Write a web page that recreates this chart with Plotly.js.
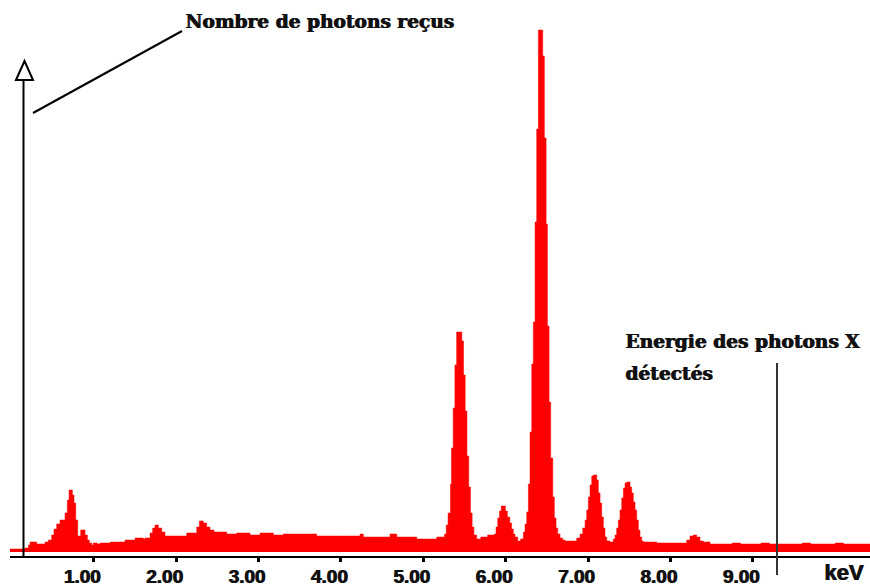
<!DOCTYPE html>
<html>
<head>
<meta charset="utf-8">
<script src="https://cdn.plot.ly/plotly-3.0.1.min.js"></script>
<style>html,body{margin:0;padding:0;background:#fff;}#chart{width:870px;height:587px;}</style>
</head>
<body>
<div id="chart"></div>
<script>
// Spectrum (energy in keV, counts in arbitrary units), step starts
var energyKeV = [
  -0.02, 0.164, 0.205, 0.225, 0.306, 0.407, 0.447, 0.488, 0.516, 0.549, 0.589, 0.650, 0.678, 0.699,
  0.739, 0.759, 0.780, 0.804, 0.840, 0.893, 0.921, 0.945, 0.974, 0.994, 1.042, 1.075, 1.20, 1.378,
  1.500, 1.601, 1.621, 1.682, 1.714, 1.743, 1.783, 1.824, 1.864, 2.127, 2.249, 2.281, 2.329, 2.370,
  2.410, 2.459, 2.613, 2.734, 2.896, 3.017, 3.179, 3.300, 3.463, 3.705, 3.948, 4.231, 4.271, 4.595,
  4.677, 4.919, 5.162, 5.257, 5.278, 5.300, 5.329, 5.341, 5.362, 5.383, 5.404, 5.467, 5.488, 5.508,
  5.529, 5.551, 5.572, 5.592, 5.613, 5.647, 5.697, 5.780, 5.861, 5.882, 5.903, 5.924, 5.945, 5.996,
  6.020, 6.049, 6.071, 6.092, 6.112, 6.146, 6.180, 6.214, 6.234, 6.255, 6.275, 6.295, 6.316, 6.335,
  6.356, 6.376, 6.396, 6.449, 6.469, 6.490, 6.506, 6.526, 6.546, 6.571, 6.590, 6.611, 6.631, 6.659,
  6.690, 6.720, 6.862, 6.902, 6.935, 6.963, 6.983, 7.003, 7.023, 7.044, 7.063, 7.105, 7.124, 7.145,
  7.165, 7.185, 7.205, 7.226, 7.266, 7.306, 7.327, 7.347, 7.367, 7.387, 7.408, 7.428, 7.448, 7.469,
  7.509, 7.529, 7.549, 7.570, 7.590, 7.610, 7.630, 7.651, 7.671, 7.833, 8.197, 8.237, 8.277, 8.318,
  8.358, 8.399, 8.480, 8.750, 8.850, 9.100, 9.200, 9.600, 9.700, 10.000, 10.100, 10.450
];
var counts = [
  3, 4, 7, 10, 8, 10, 12, 17, 23, 28, 32, 39, 52, 62,
  57, 49, 32, 16, 22, 17, 12, 9, 7, 9, 8, 9, 10, 12,
  14, 13, 14, 19, 24, 27, 24, 20, 16, 19, 25, 31, 29, 25,
  22, 20, 18, 19, 17, 19, 17, 18, 18, 16, 16, 18, 15, 18,
  15, 13, 15, 18, 27, 39, 68, 104, 144, 187, 220, 211, 177, 141,
  96, 65, 39, 25, 17, 13, 15, 17, 18, 25, 34, 41, 46, 41,
  35, 29, 23, 18, 15, 11, 13, 20, 28, 40, 68, 120, 188, 230,
  330, 423, 522, 496, 414, 328, 226, 150, 94, 55, 34, 24, 18, 14,
  12, 11, 14, 18, 24, 32, 42, 55, 67, 76, 77, 72, 59, 49,
  35, 24, 15, 11, 10, 13, 17, 24, 32, 42, 54, 64, 69, 70,
  65, 59, 50, 42, 32, 22, 15, 11, 10, 9, 12, 16, 17, 15,
  11, 10, 8, 9, 8, 9, 8, 9, 8, 9, 8, 8
];
var tickValues = [1, 2, 3, 4, 5, 6, 7, 8, 9];
var tickLabels = ["1.00", "2.00", "3.00", "4.00", "5.00", "6.00", "7.00", "8.00", "9.00"];
var yTitle = "Nombre de photons reçus";
var xTitleLine1 = "Energie des photons X";
var xTitleLine2 = "détectés";
var unitLabel = "keV";

// pixel -> paper helpers (plot area: x 10..870, y 0..556)
function px(x) { return (x - 10) / 860; }
function py(y) { return (556 - y) / 556; }

var trace = {
  x: energyKeV, y: counts, type: 'scatter', mode: 'lines',
  line: {shape: 'hv', color: '#ff0000', width: 0.5},
  fill: 'tozeroy', fillcolor: '#ff0000', hoverinfo: 'skip'
};

var serif = {family: 'DejaVu Serif', size: 18.6, color: '#111', weight: 'bold', shadow: '1px 0px 0px #111'};

var layout = {
  width: 870, height: 587,
  margin: {l: 10, r: 0, t: 0, b: 31, pad: 0},
  paper_bgcolor: '#ffffff', plot_bgcolor: '#ffffff',
  showlegend: false,
  xaxis: {
    range: [-0.018, 10.422], showgrid: false, zeroline: false,
    showline: true, linecolor: '#000', linewidth: 2,
    ticks: 'outside', ticklen: 4, tickwidth: 3, tickcolor: '#000',
    tickmode: 'array', tickvals: tickValues, ticktext: tickLabels,
    tickfont: {family: 'Liberation Sans', size: 19, color: '#111', weight: 'bold', shadow: '1px 0px 0px #111'},
    ticklabelshift: -12, ticklabelstandoff: -2
  },
  yaxis: {range: [-4, 552], visible: false, showgrid: false, zeroline: false},
  shapes: [
    {type: 'line', xref: 'paper', yref: 'paper', x0: px(23.5), x1: px(23.5), y0: py(558), y1: py(80),
     line: {color: '#000', width: 2}},
    {type: 'path', xref: 'paper', yref: 'paper',
     path: 'M ' + px(16) + ',' + py(80) + ' L ' + px(24.5) + ',' + py(61) + ' L ' + px(33) + ',' + py(80) + ' Z',
     line: {color: '#000', width: 2}, fillcolor: '#ffffff'},
    {type: 'line', xref: 'paper', yref: 'paper', x0: px(33), y0: py(113), x1: px(182), y1: py(31),
     line: {color: '#000', width: 2}},
    {type: 'line', xref: 'paper', yref: 'paper', x0: px(777), x1: px(777), y0: py(363), y1: py(575),
     line: {color: '#333', width: 2}}
  ],
  annotations: [
    {text: yTitle, xref: 'paper', yref: 'paper', x: px(183), y: py(22), xanchor: 'left', yanchor: 'middle',
     showarrow: false, font: serif},
    {text: xTitleLine1, xref: 'paper', yref: 'paper', x: px(623), y: py(341), xanchor: 'left', yanchor: 'middle',
     showarrow: false, font: serif},
    {text: xTitleLine2, xref: 'paper', yref: 'paper', x: px(623), y: py(373), xanchor: 'left', yanchor: 'middle',
     showarrow: false, font: serif},
    {text: unitLabel, xref: 'paper', yref: 'paper', x: px(843), y: py(572), xanchor: 'center', yanchor: 'middle',
     showarrow: false, font: {family: 'Liberation Sans', size: 22, color: '#111', weight: 'bold', shadow: '1px 0px 0px #111'}}
  ]
};

Plotly.newPlot('chart', [trace], layout, {staticPlot: true, displayModeBar: false});
</script>
</body>
</html>
